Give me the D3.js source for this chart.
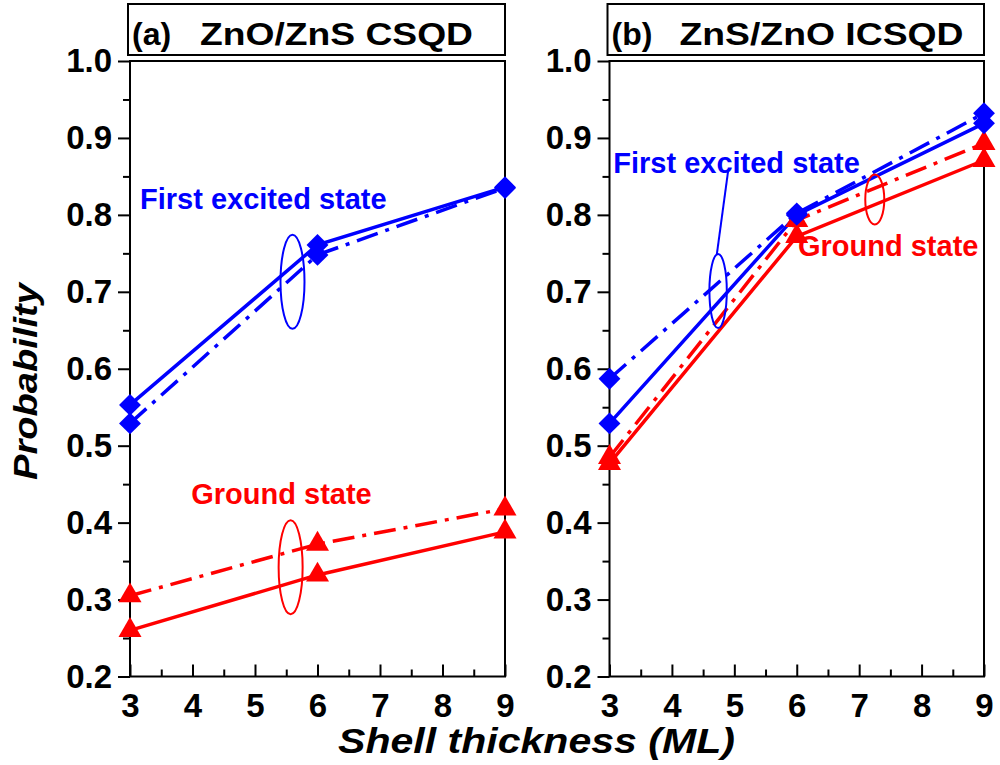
<!DOCTYPE html>
<html>
<head>
<meta charset="utf-8">
<script src="https://cdn.jsdelivr.net/npm/d3@7"></script>
<style>
  body { margin: 0; background: #fff; }
  text { font-family: "Liberation Sans", Arial, sans-serif; font-weight: bold; }
</style>
</head>
<body>
<svg id="chart" width="1000" height="765"></svg>
<script>
// shell thickness (ML)
var thickness = [3, 6, 9];

// (a) ZnO/ZnS CSQD
var csqdExcitedSolid = [0.553, 0.761, 0.836];
var csqdExcitedDash = [0.529, 0.748, 0.835];
var csqdGroundSolid = [0.260, 0.332, 0.388];
var csqdGroundDash = [0.305, 0.372, 0.418];

// (b) ZnS/ZnO ICSQD
var icsqdExcitedSolid = [0.529, 0.800, 0.919];
var icsqdExcitedDash = [0.587, 0.802, 0.932];
var icsqdGroundSolid = [0.477, 0.772, 0.871];
var icsqdGroundDash = [0.485, 0.793, 0.893];

var xTicks = [3, 4, 5, 6, 7, 8, 9];
var xMinor = [3.5, 4.5, 5.5, 6.5, 7.5, 8.5];
var yTicks = [0.2, 0.3, 0.4, 0.5, 0.6, 0.7, 0.8, 0.9, 1.0];
var yMinor = [0.25, 0.35, 0.45, 0.55, 0.65, 0.75, 0.85, 0.95];

var blue = "#0000ff";
var red = "#ff0000";
var dashDot = "22,8,4,8";

var svg = d3.select("#chart");

var y = d3.scaleLinear().domain([0.2, 1.0]).range([676.5, 61]);

function panel(opts) {
  var x = d3.scaleLinear().domain([3, 9]).range([opts.x0, opts.x1]);
  var g = svg.append("g");

  // minor ticks
  g.append("g")
    .attr("transform", "translate(" + opts.x0 + ",0)")
    .call(d3.axisLeft(y).tickValues(yMinor).tickSize(7).tickFormat(""))
    .call(function (s) { s.select(".domain").remove(); });
  g.append("g")
    .attr("transform", "translate(0," + y(0.2) + ")")
    .call(d3.axisBottom(x).tickValues(xMinor).tickSizeInner(-7).tickSizeOuter(0).tickFormat(""))
    .call(function (s) { s.select(".domain").remove(); });

  // major ticks + labels
  g.append("g")
    .attr("transform", "translate(" + opts.x0 + ",0)")
    .call(d3.axisLeft(y).tickValues(yTicks).tickSize(12).tickPadding(6).tickFormat(d3.format(".1f")))
    .call(function (s) { s.select(".domain").remove(); })
    .selectAll("text").style("font-size", "33px").attr("fill", "#000");
  g.append("g")
    .attr("transform", "translate(0," + y(0.2) + ")")
    .call(d3.axisBottom(x).tickValues(xTicks).tickSizeInner(-12).tickSizeOuter(0).tickPadding(17).tickFormat(d3.format("d")))
    .call(function (s) { s.select(".domain").remove(); })
    .selectAll("text").style("font-size", "33px").attr("fill", "#000");

  g.selectAll(".tick line").attr("stroke", "#000").attr("stroke-width", 2);

  // frame
  g.append("rect")
    .attr("x", opts.x0).attr("y", y(1.0))
    .attr("width", opts.x1 - opts.x0).attr("height", y(0.2) - y(1.0))
    .attr("fill", "none").attr("stroke", "#000").attr("stroke-width", 2);

  // title box
  g.append("rect")
    .attr("x", opts.x0 - 2).attr("y", 4)
    .attr("width", opts.x1 - opts.x0 + 2).attr("height", 51)
    .attr("fill", "none").attr("stroke", "#000").attr("stroke-width", 2);
  g.append("text").attr("x", opts.x0 + 2).attr("y", 45)
    .style("font-size", "32px").text(opts.tag);
  g.append("text").attr("x", opts.x0 + 70).attr("y", 45)
    .style("font-size", "32px")
    .attr("textLength", opts.titleLen).attr("lengthAdjust", "spacingAndGlyphs")
    .text(opts.title);

  var line = d3.line()
    .x(function (d, i) { return x(thickness[i]); })
    .y(function (d) { return y(d); });

  var diamond = d3.symbol().type(d3.symbolSquare).size(240);
  var triangle = d3.symbol().type(d3.symbolTriangle).size(230);

  opts.series.forEach(function (s) {
    g.append("path").datum(s.values)
      .attr("d", line)
      .attr("fill", "none")
      .attr("stroke", s.color)
      .attr("stroke-width", 3.5)
      .attr("stroke-dasharray", s.dash ? dashDot : null);
  });
  opts.series.forEach(function (s) {
    g.selectAll(null).data(s.values).enter()
      .append("path")
      .attr("d", s.marker == "diamond" ? diamond : triangle)
      .attr("transform", function (d, i) {
        return "translate(" + x(thickness[i]) + "," + y(d) + ")" + (s.marker == "diamond" ? " rotate(45)" : "");
      })
      .attr("fill", s.color);
  });

  // annotations
  opts.ellipses.forEach(function (e) {
    g.append("ellipse")
      .attr("cx", x(e.cx)).attr("cy", y(e.cy))
      .attr("rx", e.rx).attr("ry", e.ry)
      .attr("fill", "none").attr("stroke", e.color).attr("stroke-width", 2);
  });
  opts.labels.forEach(function (l) {
    g.append("text").attr("x", x(l.x)).attr("y", y(l.y))
      .attr("fill", l.color).style("font-size", "29px").text(l.text);
  });
  return { g: g, x: x };
}

var pa = panel({
  x0: 130, x1: 505, tag: "(a)", title: "ZnO/ZnS CSQD", titleLen: 273,
  series: [
    { values: csqdExcitedDash, color: blue, dash: true, marker: "diamond" },
    { values: csqdExcitedSolid, color: blue, dash: false, marker: "diamond" },
    { values: csqdGroundDash, color: red, dash: true, marker: "triangle" },
    { values: csqdGroundSolid, color: red, dash: false, marker: "triangle" }
  ],
  ellipses: [
    { cx: 5.6, cy: 0.713, rx: 12, ry: 47, color: blue },
    { cx: 5.57, cy: 0.342, rx: 12, ry: 47, color: red }
  ],
  labels: [
    { x: 3.16, y: 0.807, text: "First excited state", color: blue },
    { x: 3.98, y: 0.424, text: "Ground state", color: red }
  ]
});

var pb = panel({
  x0: 609.5, x1: 984, tag: "(b)", title: "ZnS/ZnO ICSQD", titleLen: 284,
  series: [
    { values: icsqdGroundDash, color: red, dash: true, marker: "triangle" },
    { values: icsqdGroundSolid, color: red, dash: false, marker: "triangle" },
    { values: icsqdExcitedDash, color: blue, dash: true, marker: "diamond" },
    { values: icsqdExcitedSolid, color: blue, dash: false, marker: "diamond" }
  ],
  ellipses: [
    { cx: 4.74, cy: 0.701, rx: 8.7, ry: 37, color: blue },
    { cx: 7.25, cy: 0.82, rx: 9.5, ry: 25, color: red }
  ],
  labels: [
    { x: 3.06, y: 0.854, text: "First excited state", color: blue },
    { x: 6.02, y: 0.746, text: "Ground state", color: red }
  ]
});

// pointer from the label to the ellipse in (b)
pb.g.append("line")
  .attr("x1", pb.x(4.9)).attr("y1", y(0.857))
  .attr("x2", pb.x(4.72)).attr("y2", y(0.749))
  .attr("stroke", blue).attr("stroke-width", 2);

// axis titles
svg.append("text")
  .attr("transform", "translate(37,480) rotate(-90)")
  .style("font-size", "34px").style("font-style", "italic")
  .attr("textLength", 197).attr("lengthAdjust", "spacingAndGlyphs")
  .text("Probability");
svg.append("text")
  .attr("x", 338).attr("y", 753)
  .style("font-size", "35px").style("font-style", "italic")
  .attr("textLength", 397).attr("lengthAdjust", "spacingAndGlyphs")
  .text("Shell thickness (ML)");
</script>
</body>
</html>
